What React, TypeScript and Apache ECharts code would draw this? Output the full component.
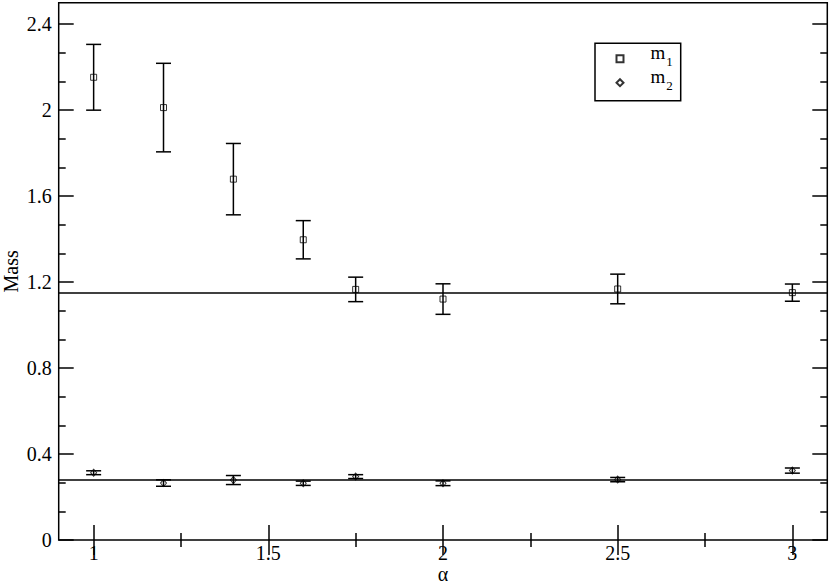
import React, { useEffect, useRef } from "react";
import * as echarts from "echarts";

const alpha = [1, 1.2, 1.4, 1.6, 1.75, 2, 2.5, 3];
const m1 = [2.153, 2.012, 1.679, 1.397, 1.166, 1.121, 1.168, 1.151];
const m1Err = [0.153, 0.206, 0.166, 0.089, 0.057, 0.071, 0.069, 0.04];
const m2 = [0.313, 0.265, 0.279, 0.264, 0.295, 0.264, 0.281, 0.323];
const m2Err = [0.009, 0.015, 0.021, 0.01, 0.009, 0.011, 0.01, 0.012];
const m1Fit = 1.152;
const m2Fit = 0.284;

const xMajorTicks = [1, 1.5, 2, 2.5, 3];
const xMinorTicks = [1.25, 1.75, 2.25, 2.75];
const yMajorTicks = [0, 0.4, 0.8, 1.2, 1.6, 2, 2.4];
const yMinorTicks = [
  0.1333, 0.2667, 0.5333, 0.6667, 0.9333, 1.0667, 1.3333, 1.4667, 1.7333,
  1.8667, 2.1333, 2.2667,
];

const FONT = "Liberation Serif, serif";
const X_MIN = 0.9;
const X_MAX = 3.1;
const Y_MIN = 0;
const Y_MAX = 2.5;

function xAxis(position: string, ticks: number[], len: number, labels: boolean) {
  return {
    type: "value",
    min: X_MIN,
    max: X_MAX,
    position,
    axisLine: { show: false },
    splitLine: { show: false },
    axisTick: {
      show: true,
      inside: true,
      length: len,
      customValues: ticks,
      lineStyle: { color: "#000", width: 1.5 },
    },
    axisLabel: labels
      ? { show: true, customValues: ticks, color: "#000", fontSize: 20, fontFamily: FONT, margin: 3 }
      : { show: false },
  };
}

function yAxis(position: string, ticks: number[], len: number, labels: boolean) {
  return {
    type: "value",
    min: Y_MIN,
    max: Y_MAX,
    position,
    axisLine: { show: false },
    splitLine: { show: false },
    axisTick: {
      show: true,
      inside: true,
      length: len,
      customValues: ticks,
      lineStyle: { color: "#000", width: 1.5 },
    },
    axisLabel: labels
      ? { show: true, customValues: ticks, color: "#000", fontSize: 20, fontFamily: FONT, margin: 7 }
      : { show: false },
  };
}

function errorSeries(name: string, vals: number[], errs: number[]) {
  return {
    type: "custom",
    name,
    xAxisIndex: 0,
    yAxisIndex: 0,
    silent: true,
    z: 2,
    data: alpha.map((a, i) => [a, vals[i] - errs[i], vals[i] + errs[i]]),
    encode: { x: 0, y: [1, 2] },
    renderItem: (params: any, api: any) => {
      const x = api.value(0);
      const lo = api.coord([x, api.value(1)]);
      const hi = api.coord([x, api.value(2)]);
      const hw = 7.5;
      const style = { stroke: "#000", lineWidth: 1.5 };
      return {
        type: "group",
        children: [
          { type: "line", shape: { x1: lo[0], y1: lo[1], x2: hi[0], y2: hi[1] }, style },
          { type: "line", shape: { x1: lo[0] - hw, y1: lo[1], x2: lo[0] + hw, y2: lo[1] }, style },
          { type: "line", shape: { x1: hi[0] - hw, y1: hi[1], x2: hi[0] + hw, y2: hi[1] }, style },
        ],
      };
    },
  };
}

export default function App() {
  const ref = useRef<HTMLDivElement>(null);
  useEffect(() => {
    if (!ref.current) return;
    const chart = echarts.init(ref.current, null, { renderer: "svg" });
    const option: any = {
      animation: false,
      backgroundColor: "#fff",
      textStyle: { fontFamily: FONT, color: "#000" },
      grid: {
        left: 58.7,
        right: 2.7,
        top: 2.7,
        bottom: 44,
        show: true,
        borderColor: "#000",
        borderWidth: 1.5,
        backgroundColor: "transparent",
        containLabel: false,
        outerBoundsMode: "none",
      },
      xAxis: [
        {
          ...xAxis("bottom", xMajorTicks, 15, true),
          name: "α",
          nameLocation: "middle",
          nameGap: 24,
          nameMoveOverlap: false,
          nameTextStyle: { fontSize: 20, fontFamily: FONT, color: "#000" },
        },
        xAxis("bottom", xMinorTicks, 7, false),
        xAxis("top", xMajorTicks, 15, false),
        xAxis("top", xMinorTicks, 7, false),
      ],
      yAxis: [
        {
          ...yAxis("left", yMajorTicks, 15, true),
          name: "Mass",
          nameLocation: "middle",
          nameGap: 38,
          nameMoveOverlap: false,
          nameTextStyle: { fontSize: 20, fontFamily: FONT, color: "#000" },
        },
        yAxis("left", yMinorTicks, 7, false),
        yAxis("right", yMajorTicks, 15, false),
        yAxis("right", yMinorTicks, 7, false),
      ],
      legend: {
        orient: "vertical",
        left: 615.5,
        top: 42.7,
        padding: 0,
        itemWidth: 7,
        itemHeight: 7,
        itemGap: -8,
        data: ["m1", "m2"],
        formatter: (name: string) => (name === "m1" ? "{m|m}{s|1}" : "{m|m}{s|2}"),
        textStyle: {
          color: "#000",
          fontFamily: FONT,
          rich: {
            m: {
              fontSize: 19,
              fontFamily: FONT,
              color: "#000",
              lineHeight: 19,
              padding: [0, 0, 13, 22],
            },
            s: {
              fontSize: 13,
              fontFamily: FONT,
              color: "#000",
              lineHeight: 13,
              padding: [6, 0, 0, 1],
            },
          },
        },
      },
      graphic: [
        {
          type: "rect",
          shape: { x: 595, y: 43.3, width: 85.7, height: 57.4 },
          style: { fill: "transparent", stroke: "#000", lineWidth: 1.5 },
          silent: true,
        },
      ],
      series: [
        errorSeries("m1 error", m1, m1Err),
        errorSeries("m2 error", m2, m2Err),
        {
          type: "scatter",
          name: "m1",
          xAxisIndex: 0,
          yAxisIndex: 0,
          symbol: "rect",
          symbolSize: 6,
          z: 3,
          itemStyle: { color: "rgba(0,0,0,0)", borderColor: "#000", borderWidth: 1 },
          data: alpha.map((a, i) => [a, m1[i]]),
          markLine: {
            silent: true,
            symbol: "none",
            label: { show: false },
            lineStyle: { color: "#000", width: 1.5, type: "solid" },
            data: [{ yAxis: m1Fit }],
          },
        },
        {
          type: "scatter",
          name: "m2",
          xAxisIndex: 0,
          yAxisIndex: 0,
          symbol: "diamond",
          symbolSize: [6, 7],
          z: 3,
          itemStyle: { color: "rgba(0,0,0,0)", borderColor: "#000", borderWidth: 1 },
          data: alpha.map((a, i) => [a, m2[i]]),
          markLine: {
            silent: true,
            symbol: "none",
            label: { show: false },
            lineStyle: { color: "#000", width: 1.5, type: "solid" },
            data: [{ yAxis: m2Fit }],
          },
        },
      ],
    };
    chart.setOption(option);
    return () => chart.dispose();
  }, []);
  return (
    <div
      ref={ref}
      style={{ position: "absolute", left: 0, top: 0, width: 830, height: 584 }}
    />
  );
}
